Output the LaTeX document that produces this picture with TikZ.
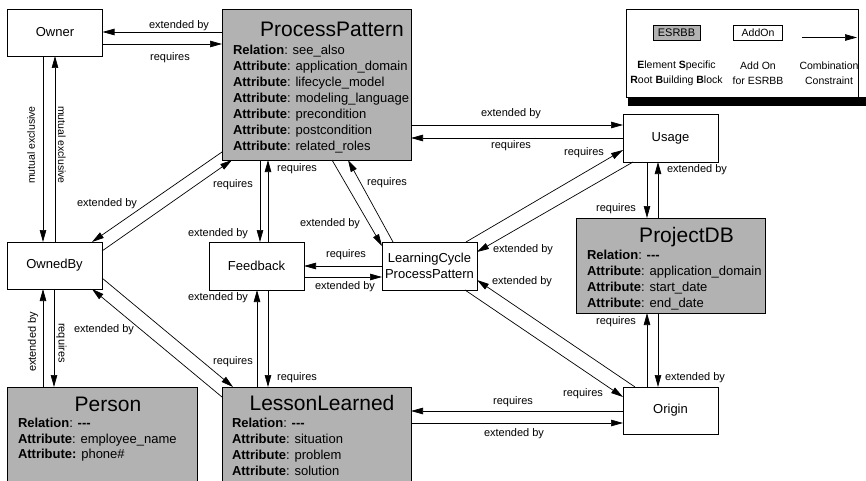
\documentclass[tikz,border=0pt]{standalone}
\usepackage{fontspec}
\setmainfont{Liberation Sans}
\usetikzlibrary{arrows.meta}
\definecolor{boxgray}{RGB}{178,178,178}
\begin{document}
\begin{tikzpicture}[x=1pt,y=-1pt,
  every node/.style={inner sep=0pt, outer sep=0pt},
  addon/.style={draw, line width=0.8pt, minimum width=95pt, minimum height=48pt,
    align=center, font=\fontsize{13}{15.5}\selectfont},
  esrbb/.style={draw, line width=0.8pt, fill=boxgray},
  title/.style={anchor=base, font=\fontsize{21}{24}\selectfont},
  attr/.style={anchor=base west, font=\fontsize{13}{16}\selectfont},
  lbl/.style={font=\fontsize{11}{13}\selectfont},
  link/.style={line width=0.7pt, -{Triangle[length=12pt,width=6.5pt]}},
  legtext/.style={align=center, font=\fontsize{10.5}{15}\selectfont}
]
\useasboundingbox (0,0) rectangle (866,481);

% ---------- legend ----------
\draw[line width=0.8pt] (626,9) rectangle (858,97);
\fill (628,97) rectangle (866,106);
\node[esrbb, minimum width=47pt, minimum height=15.5pt, font=\fontsize{11}{13}\selectfont] (legE) at (676.5,33) {ESRBB};
\node[draw, line width=0.8pt, minimum width=49.5pt, minimum height=15pt, font=\fontsize{10.5}{13}\selectfont] (legA) at (758,32.5) {AddOn};
\coordinate (legS) at (802,37.5);
\coordinate (legT) at (857,37.5);
\draw[link] (legS) -- (legT);
\node[legtext] (legEt) at (676.5,73.5) {\textbf{E}lement \textbf{S}pecific\\\textbf{R}oot \textbf{B}uilding \textbf{B}lock};
\node[legtext] (legAt) at (758,73.5) {Add On\\for ESRBB};
\node[legtext] (legCt) at (829,73.5) {Combination\\Constraint};

% ---------- building blocks ----------
\node[esrbb, minimum width=189pt, minimum height=151pt] (pp) at (316.5,84.5) {};
\node[title] (ppT) at (332,37) {ProcessPattern};
\node[attr] (pp1) at (233,55) {\textbf{Relation}: see\_also};
\node[attr] (pp2) at (233,71) {\textbf{Attribute}: application\_domain};
\node[attr] (pp3) at (233,87) {\textbf{Attribute}: lifecycle\_model};
\node[attr] (pp4) at (233,103) {\textbf{Attribute}: modeling\_language};
\node[attr] (pp5) at (233,119) {\textbf{Attribute}: precondition};
\node[attr] (pp6) at (233,135) {\textbf{Attribute}: postcondition};
\node[attr] (pp7) at (233,151) {\textbf{Attribute}: related\_roles};

\node[esrbb, minimum width=189pt, minimum height=95pt] (pdb) at (670.5,265.5) {};
\node[title] (pdbT) at (686.5,242) {ProjectDB};
\node[attr] (pdb1) at (587,259) {\textbf{Relation}: \textbf{-{}-{}-}};
\node[attr] (pdb2) at (587,275) {\textbf{Attribute}: application\_domain};
\node[attr] (pdb3) at (587,291) {\textbf{Attribute}: start\_date};
\node[attr] (pdb4) at (587,307) {\textbf{Attribute}: end\_date};

\node[esrbb, minimum width=190pt, minimum height=113pt] (pe) at (102,443.5) {};
\node[title] (peT) at (108,411) {Person};
\node[attr] (pe1) at (18,427) {\textbf{Relation}: \textbf{-{}-{}-}};
\node[attr] (pe2) at (18,443) {\textbf{Attribute}: employee\_name};
\node[attr] (pe3) at (18,458.5) {\textbf{Attribute:} phone\#};

\node[esrbb, minimum width=189pt, minimum height=113pt] (ll) at (316.5,443.5) {};
\node[title] (llT) at (322,410) {LessonLearned};
\node[attr] (ll1) at (232,427) {\textbf{Relation}: \textbf{-{}-{}-}};
\node[attr] (ll2) at (232,443) {\textbf{Attribute}: situation};
\node[attr] (ll3) at (232,459) {\textbf{Attribute}: problem};
\node[attr] (ll4) at (232,475) {\textbf{Attribute}: solution};

% ---------- add-ons ----------
\node[addon, minimum height=47pt] (own) at (55,32.5) {Owner};
\node[addon, minimum height=47pt] (ob) at (54.5,265.5) {OwnedBy};
\node[addon] (fb) at (256.5,266) {Feedback};
\node[addon] (lc) at (429.5,266) {LearningCycle\\ProcessPattern};
\node[addon] (us) at (670.5,138) {Usage};
\node[addon, minimum height=47pt] (or) at (670.5,410.5) {Origin};

% ---------- combination constraints ----------
% Owner <-> ProcessPattern
\draw[link] (pp.west |- 0,32) -- (own.east |- 0,32);
\node[lbl] (t1a) at (179,26) {extended by};
\draw[link] (own.east |- 0,44) -- (pp.west |- 0,44);
\node[lbl] (t1b) at (170,58) {requires};

% Owner <-> OwnedBy
\draw[link] (own.south -| 43,0) -- (ob.north -| 43,0);
\node[lbl, rotate=90, font=\fontsize{10.5}{12}\selectfont] (t2a) at (31,145) {mutual exclusive};
\draw[link] (ob.north -| 55,0) -- (own.south -| 55,0);
\node[lbl, rotate=-90, font=\fontsize{10.5}{12}\selectfont] (t2b) at (62,145) {mutual exclusive};

% ProcessPattern <-> OwnedBy
\draw[link] (pp.west |- 0,152) -- (ob.north -| 92,0);
\node[lbl] (t3a) at (107,204) {extended by};
\draw[link] (ob.east |- 0,251) -- (pp.south -| 232,0);
\node[lbl] (t3b) at (233,185) {requires};

% ProcessPattern <-> Feedback
\draw[link] (pp.south -| 260,0) -- (fb.north -| 260,0);
\node[lbl] (t4a) at (218,234) {extended by};
\draw[link] (fb.north -| 268,0) -- (pp.south -| 268,0);
\node[lbl] (t4b) at (297,169) {requires};

% ProcessPattern <-> LearningCycle
\draw[link] (pp.south -| 332,0) -- (lc.west |- 0,246);
\node[lbl] (t5a) at (330,224) {extended by};
\draw[link] (lc.north -| 393,0) -- (pp.south -| 348,0);
\node[lbl] (t5b) at (387,183) {requires};

% Feedback <-> LearningCycle
\draw[link] (lc.west |- 0,266) -- (fb.east |- 0,266);
\node[lbl] (t6a) at (346,255) {requires};
\draw[link] (fb.east |- 0,277) -- (lc.west |- 0,277);
\node[lbl] (t6b) at (345,287) {extended by};

% OwnedBy <-> LessonLearned
\draw[link] (ob.east |- 0,278) -- (ll.north -| 233,0);
\node[lbl] (t7a) at (233,362) {requires};
\draw[link] (ll.west |- 0,397) -- (ob.south -| 92,0);
\node[lbl] (t7b) at (104,330) {extended by};

% OwnedBy <-> Person
\draw[link] (pe.north -| 43,0) -- (ob.south -| 43,0);
\node[lbl, rotate=90] (t8a) at (33,342) {extended by};
\draw[link] (ob.south -| 54,0) -- (pe.north -| 54,0);
\node[lbl, rotate=-90] (t8b) at (61.5,343) {requires};

% Feedback <-> LessonLearned
\draw[link] (ll.north -| 257,0) -- (fb.south -| 257,0);
\node[lbl] (t9a) at (218,298) {extended by};
\draw[link] (fb.south -| 268,0) -- (ll.north -| 268,0);
\node[lbl] (t9b) at (297,378) {requires};

% LessonLearned <-> Origin
\draw[link] (or.west |- 0,411) -- (ll.east |- 0,411);
\node[lbl] (t10a) at (513,402) {requires};
\draw[link] (ll.east |- 0,423) -- (or.west |- 0,423);
\node[lbl] (t10b) at (514,434) {extended by};

% LearningCycle <-> Origin
\draw[link] (lc.south -| 465,0) -- (or.west |- 0,397);
\node[lbl] (t11a) at (583,394) {requires};
\draw[link] (or.north -| 635,0) -- (lc.east |- 0,280);
\node[lbl] (t11b) at (522,282) {extended by};

% LearningCycle <-> Usage
\draw[link] (lc.north -| 466,0) -- (us.west |- 0,150);
\node[lbl] (t12a) at (584,153) {requires};
\draw[link] (us.south -| 633,0) -- (lc.east |- 0,252);
\node[lbl] (t12b) at (523,250) {extended by};

% ProcessPattern <-> Usage
\draw[link] (pp.east |- 0,125) -- (us.west |- 0,125);
\node[lbl] (t13a) at (511,114) {extended by};
\draw[link] (us.west |- 0,138) -- (pp.east |- 0,138);
\node[lbl] (t13b) at (511,146) {requires};

% Usage <-> ProjectDB
\draw[link] (us.south -| 647,0) -- (pdb.north -| 647,0);
\node[lbl] (t14a) at (616,209) {requires};
\draw[link] (pdb.north -| 658,0) -- (us.south -| 658,0);
\node[lbl] (t14b) at (697,170) {extended by};

% ProjectDB <-> Origin
\draw[link] (or.north -| 647,0) -- (pdb.south -| 647,0);
\node[lbl] (t15a) at (616,322) {requires};
\draw[link] (pdb.south -| 658,0) -- (or.north -| 658,0);
\node[lbl] (t15b) at (695,378) {extended by};
\end{tikzpicture}
\end{document}
